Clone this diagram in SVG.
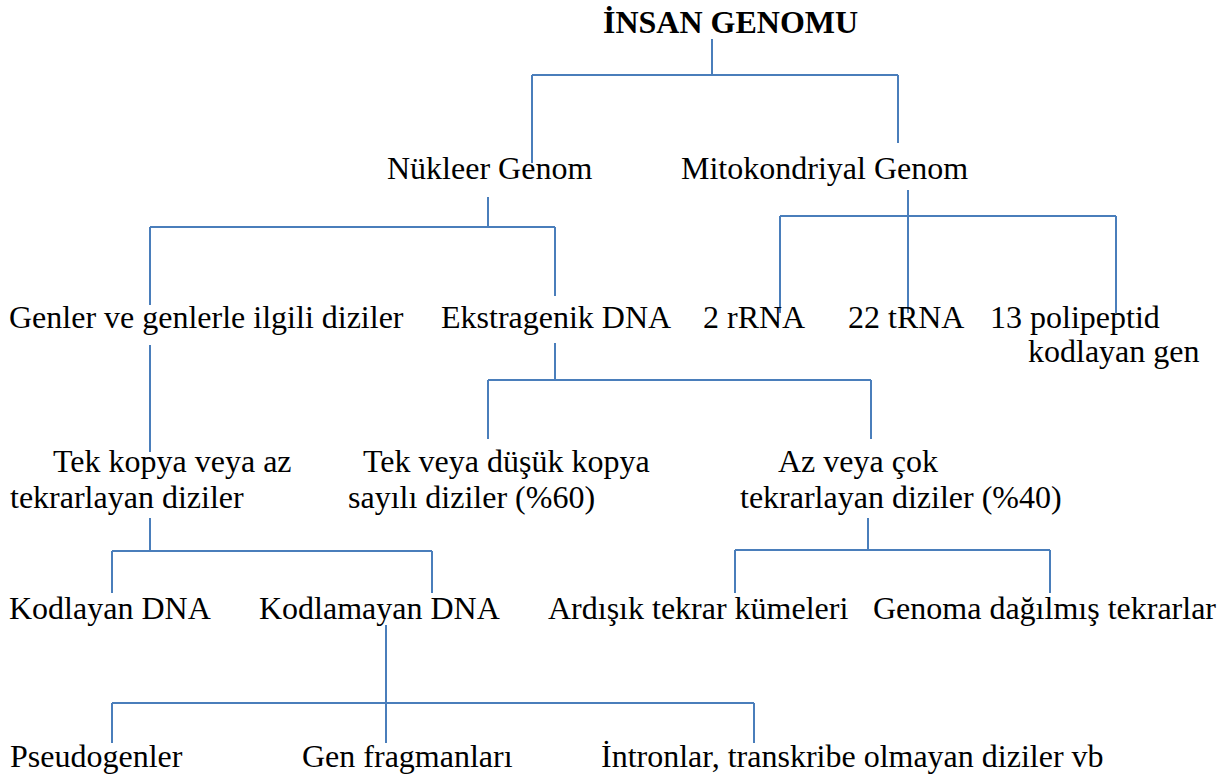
<svg xmlns="http://www.w3.org/2000/svg" width="1228" height="778" viewBox="0 0 1228 778">
<style>
text{font-family:"Liberation Serif","Times New Roman",serif;font-size:32px;fill:#000}
.b{font-weight:bold}
.c{fill:none;stroke:#4a7ebb;stroke-width:2}
</style>
<rect width="1228" height="778" fill="#fff"/>
<g id="connectors" class="c">
<path d="M712 39V75M532 75H898M532 75V163M898 75V143"/>
<path d="M488 197V227M150 227H555M150 227V305M555 227V296"/>
<path d="M908 190V313M780 216H1116M780 216V313M1116 216V313"/>
<path d="M150 345V452"/>
<path d="M555 343V380M488 380H871M488 380V439M871 380V439"/>
<path d="M150 518V551M112 551H432M112 551V593M432 551V593"/>
<path d="M868 518V550M735 550H1050M735 550V593M1050 550V593"/>
<path d="M386 625V743M112 703H754M112 703V743M754 703V743"/>
</g>
<g id="n-root"><text class="b" x="603" y="33">İNSAN GENOMU</text></g>
<g id="n-nukleer"><text x="387" y="179">Nükleer Genom</text></g>
<g id="n-mito"><text x="681" y="179">Mitokondriyal Genom</text></g>
<g id="n-genler"><text x="9" y="328">Genler ve genlerle ilgili diziler</text></g>
<g id="n-ekstra"><text x="441" y="328">Ekstragenik DNA</text></g>
<g id="n-rrna"><text x="703" y="328">2 rRNA</text></g>
<g id="n-trna"><text x="848" y="328">22 tRNA</text></g>
<g id="n-poli"><text x="990" y="328">13 polipeptid</text><text x="1028" y="362">kodlayan gen</text></g>
<g id="n-tekkopya"><text x="53" y="472">Tek kopya veya az</text><text x="10" y="508">tekrarlayan diziler</text></g>
<g id="n-tekveya"><text x="363" y="472">Tek veya düşük kopya</text><text x="348" y="508">sayılı diziler (%60)</text></g>
<g id="n-azveya"><text x="778" y="472">Az veya çok</text><text x="740" y="508">tekrarlayan diziler (%40)</text></g>
<g id="n-kodlayan"><text x="9" y="619">Kodlayan DNA</text></g>
<g id="n-kodlamayan"><text x="259" y="619">Kodlamayan DNA</text></g>
<g id="n-ardisik"><text x="548" y="619">Ardışık tekrar kümeleri</text></g>
<g id="n-genoma"><text x="873" y="619">Genoma dağılmış tekrarlar</text></g>
<g id="n-pseudo"><text x="10" y="767">Pseudogenler</text></g>
<g id="n-fragman"><text x="302" y="767">Gen fragmanları</text></g>
<g id="n-intron"><text x="601" y="767">İntronlar, transkribe olmayan diziler vb</text></g>
</svg>
